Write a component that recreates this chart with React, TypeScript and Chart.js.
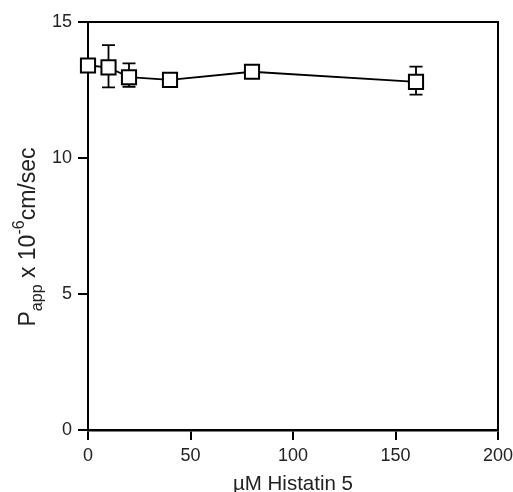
import React, { useEffect, useRef } from "react";
import { Chart, registerables } from "chart.js";

Chart.register(...registerables);

const concentrations = [0, 10, 20, 40, 80, 160];
const papp = [13.4, 13.33, 12.97, 12.87, 13.17, 12.8];
const errUpper = [null, 14.15, 13.48, null, null, 13.36];
const errLower = [null, 12.6, 12.62, null, null, 12.33];
const xTicks = [0, 50, 100, 150, 200];
const yTicks = [0, 5, 10, 15];

const FONT = "'Liberation Sans', Arial, Helvetica, sans-serif";

const framePlugin = {
  id: "frame",
  beforeDatasetsDraw(chart: any) {
    const { ctx, chartArea, scales } = chart;
    const xs = scales.x;
    const ys = scales.y;
    ctx.save();
    ctx.strokeStyle = "#000";
    ctx.lineWidth = 2;
    ctx.strokeRect(chartArea.left, chartArea.top, chartArea.right - chartArea.left, chartArea.bottom - chartArea.top);
    ctx.lineWidth = 1.8;
    const cap = 6.5;
    concentrations.forEach((c, i) => {
      const px = xs.getPixelForValue(c);
      const pm = ys.getPixelForValue(papp[i]);
      [errUpper[i], errLower[i]].forEach((v) => {
        if (v == null) return;
        const py = ys.getPixelForValue(v);
        ctx.beginPath();
        ctx.moveTo(px, pm);
        ctx.lineTo(px, py);
        ctx.moveTo(px - cap, py);
        ctx.lineTo(px + cap, py);
        ctx.stroke();
      });
    });
    ctx.restore();
  },
  afterDraw(chart: any) {
    const { ctx, chartArea } = chart;
    ctx.save();
    ctx.fillStyle = "#222";
    ctx.font = `20.5px ${FONT}`;
    ctx.textAlign = "center";
    ctx.textBaseline = "alphabetic";
    ctx.fillText("µM Histatin 5", (chartArea.left + chartArea.right) / 2, 490);
    const cy = 237;
    const cx = 35;
    ctx.translate(cx, cy);
    ctx.rotate(-Math.PI / 2);
    const big = `23px ${FONT}`;
    const small = `16px ${FONT}`;
    const parts: [string, string, number][] = [
      ["P", big, 0],
      ["app", small, 7],
      [" x 10", big, 0],
      ["-6", small, -11],
      ["cm/sec", big, 0],
    ];
    let total = 0;
    parts.forEach(([t, f]) => {
      ctx.font = f;
      total += ctx.measureText(t).width;
    });
    let x = -total / 2;
    ctx.textAlign = "left";
    parts.forEach(([t, f, dy]) => {
      ctx.font = f;
      ctx.fillText(t, x, dy);
      x += ctx.measureText(t).width;
    });
    ctx.restore();
  },
};

export default function App() {
  const ref = useRef<HTMLCanvasElement | null>(null);
  useEffect(() => {
    if (!ref.current) return;
    const chart = new Chart(ref.current, {
      type: "line",
      data: {
        datasets: [
          {
            data: concentrations.map((c, i) => ({ x: c, y: papp[i] })),
            borderColor: "#000",
            borderWidth: 1.8,
            pointStyle: "rect",
            pointRadius: 10,
            pointHoverRadius: 10,
            pointBorderWidth: 2,
            pointBackgroundColor: "#fff",
            pointBorderColor: "#000",
            tension: 0,
            clip: false as any,
          },
        ],
      },
      options: {
        animation: false,
        responsive: false,
        maintainAspectRatio: false,
        layout: { padding: { top: 22, right: 15, left: 0, bottom: 0 } },
        plugins: { legend: { display: false }, tooltip: { enabled: false } },
        scales: {
          x: {
            type: "linear",
            min: 0,
            max: 200,
            afterBuildTicks: (s: any) => {
              s.ticks = xTicks.map((v) => ({ value: v }));
            },
            afterFit: (s: any) => {
              s.height = 62;
              s.paddingLeft = 0;
              s.paddingRight = 0;
            },
            grid: { drawOnChartArea: false, color: "#000", lineWidth: 2, tickLength: 10 },
            border: { display: true, color: "#000", width: 2.5 },
            ticks: { color: "#222", font: { family: FONT, size: 18 }, padding: 5, maxRotation: 0 },
          },
          y: {
            type: "linear",
            min: 0,
            max: 15,
            afterBuildTicks: (s: any) => {
              s.ticks = yTicks.map((v) => ({ value: v }));
            },
            afterFit: (s: any) => {
              s.width = 88;
              s.paddingTop = 0;
              s.paddingBottom = 0;
            },
            grid: { drawOnChartArea: false, color: "#000", lineWidth: 2, tickLength: 10 },
            border: { display: true, color: "#000", width: 2 },
            ticks: { color: "#222", font: { family: FONT, size: 18 }, padding: 6 },
          },
        },
      },
      plugins: [framePlugin],
    });
    return () => chart.destroy();
  }, []);
  return (
    <div style={{ position: "fixed", left: 0, top: 0, width: 513, height: 492, background: "#fff" }}>
      <canvas ref={ref} width={513} height={492} style={{ width: 513, height: 492 }} />
    </div>
  );
}
